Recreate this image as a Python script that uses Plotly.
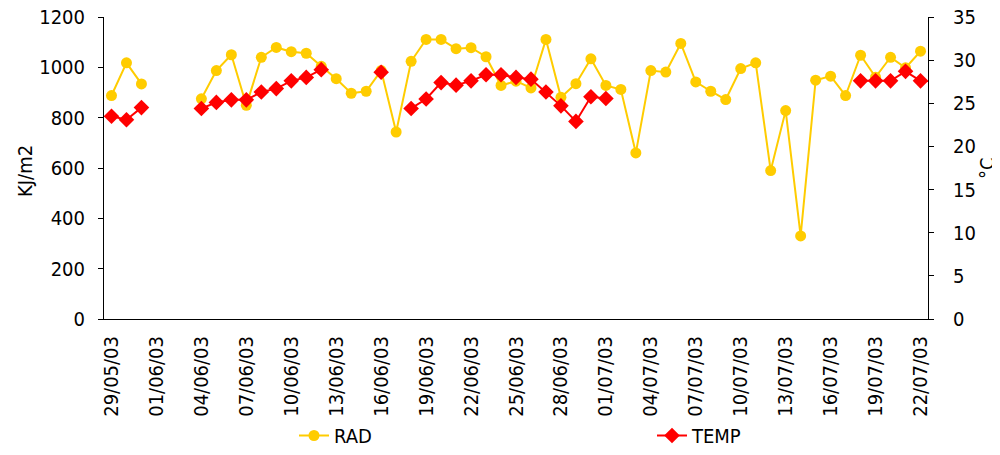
import datetime as dt
import plotly.graph_objects as go

# ---- data ----
start = dt.date(2003, 5, 29)
dates = [(start + dt.timedelta(days=i)).isoformat() for i in range(55)]

rad = [888, 1018, 934, None, None, None, 875, 987, 1050, 849,
       1040, 1079, 1062, 1056, 1004, 955, 897, 905, 987, 743,
       1024, 1111, 1111, 1074, 1078, 1042, 928, 945, 918, 1111,
       881, 935, 1034, 928, 912, 660, 987, 981, 1095, 942,
       905, 872, 995, 1018, 590, 828, 330, 949, 965, 888,
       1048, 961, 1040, 998, 1064]

temp = [23.5, 23.1, 24.5, None, None, None, 24.4, 25.1, 25.4, 25.4,
        26.3, 26.7, 27.6, 28.0, 28.9, None, None, None, 28.6, None,
        24.4, 25.5, 27.4, 27.1, 27.6, 28.3, 28.3, 28.0, 27.8, 26.3,
        24.7, 22.9, 25.75, 25.55, None, None, None, None, None, None,
        None, None, None, None, None, None, None, None, None, None,
        27.6, 27.6, 27.6, 28.7, 27.6]

label_dates = dates[::3]
rad_ticks = [0, 200, 400, 600, 800, 1000, 1200]
temp_ticks = [0, 5, 10, 15, 20, 25, 30, 35]

FONT = "DejaVu Sans Condensed, DejaVu Sans, sans-serif"

x_range = [
    (dt.datetime.fromisoformat(dates[0]) - dt.timedelta(hours=12)).isoformat(),
    (dt.datetime.fromisoformat(dates[-1]) + dt.timedelta(hours=12)).isoformat(),
]

fig = go.Figure()
fig.add_trace(go.Scatter(
    x=dates, y=rad, name="RAD", mode="lines+markers",
    line=dict(color="#FFCC00", width=2),
    marker=dict(symbol="circle", size=11, color="#FFCC00"),
    connectgaps=False, yaxis="y", xaxis="x",
))
fig.add_trace(go.Scatter(
    x=dates, y=temp, name="TEMP", mode="lines+markers",
    line=dict(color="#FF0000", width=2),
    marker=dict(symbol="diamond", size=12, color="#FF0000"),
    connectgaps=False, yaxis="y2", xaxis="x",
))

common_x = dict(type="date", range=x_range, showgrid=False, zeroline=False,
                automargin=False)

fig.update_layout(
    width=992, height=447,
    margin=dict(l=96, r=72, t=9, b=136),
    paper_bgcolor="white", plot_bgcolor="white",
    font=dict(family=FONT, size=20, color="black"),
    showlegend=True,
    legend=dict(
        orientation="h", xref="container", yref="container",
        x=0.2883, y=0.0, xanchor="left", yanchor="bottom",
        entrywidth=313, entrywidthmode="pixels",
        font=dict(size=20), bgcolor="rgba(0,0,0,0)",
    ),
    xaxis=dict(
        **common_x, tickvals=label_dates, tickformat="%d/%m/%y",
        tickangle=-90, ticks="outside", ticklen=8,
        tickcolor="rgba(0,0,0,0)",
        showline=True, linecolor="black", linewidth=1,
        tickfont=dict(size=20),
    ),
    xaxis2=dict(
        **common_x, overlaying="x", anchor="y", side="bottom",
        tick0=x_range[0], dtick=86400000, ticks="outside", ticklen=5,
        tickcolor="black", showticklabels=False, showline=False,
    ),
    xaxis3=dict(
        **common_x, overlaying="x", anchor="y", side="bottom",
        tick0=x_range[0], dtick=86400000, ticks="inside", ticklen=5,
        tickcolor="black", showticklabels=False, showline=False,
    ),
    xaxis4=dict(
        **common_x, overlaying="x", anchor="y", side="top",
        showticklabels=False, ticks="", showline=True,
        linecolor="#808080", linewidth=1,
    ),
    yaxis=dict(
        range=[0, 1200], tickvals=rad_ticks, ticks="outside", ticklen=5,
        tickcolor="black", showline=True, linecolor="black", linewidth=1,
        showgrid=False, zeroline=False, ticklabelstandoff=9, automargin=False,
        ticklabeloverflow="allow",
    ),
    yaxis2=dict(
        range=[0, 35], tickvals=temp_ticks, ticks="outside", ticklen=5,
        tickcolor="black", showline=True, linecolor="black", linewidth=1,
        showgrid=False, zeroline=False, overlaying="y", side="right",
        anchor="x", ticklabelstandoff=15, automargin=False,
        ticklabeloverflow="allow",
    ),
    annotations=[
        dict(text="KJ/m2", xref="paper", yref="paper", x=-0.0959, y=0.49,
             xanchor="center", yanchor="middle", textangle=-90,
             showarrow=False, font=dict(size=20)),
        dict(text="°C", xref="paper", yref="paper", x=1.0716, y=0.5,
             xanchor="center", yanchor="middle", textangle=-90,
             showarrow=False, font=dict(size=20)),
    ],
)

fig.write_html("out.html")
